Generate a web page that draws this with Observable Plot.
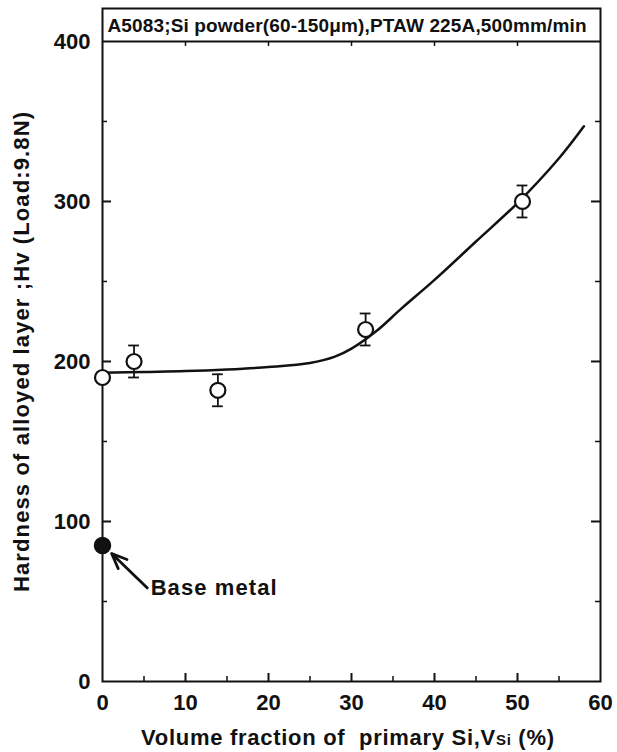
<!DOCTYPE html>
<html><head><meta charset="utf-8">
<script src="https://cdn.jsdelivr.net/npm/d3@7"></script>
<script src="https://cdn.jsdelivr.net/npm/@observablehq/plot@0.6"></script>
<style>body{margin:0;background:#fff}</style>
</head><body><div id="chart"></div>
<script>
const title = "A5083;Si powder(60-150μm),PTAW 225A,500mm/min";
const xLabelMain = "Volume fraction of  primary Si,V";
const xLabelSub = "Si";
const xLabelTail = " (%)";
const yLabel = "Hardness of alloyed layer ;Hv (Load:9.8N)";
const baseLabel = "Base metal";

// measured points (open circles) with error bars
const ptX = [0, 3.8, 13.9, 31.7, 50.6];
const ptY = [190, 200, 182, 220, 300];
const errLo = [null, 190, 172, 210, 290];
const errHi = [null, 210, 192, 230, 310];

// base metal (filled)
const baseX = [0];
const baseY = [85];

// fitted curve
const curveX = [0, 5, 10, 15, 20, 25, 28, 30, 33, 36, 40, 45, 50, 55, 58];
const curveY = [193, 193.5, 194, 195, 196.5, 199, 203, 208, 219, 233, 251, 275, 299, 327, 347];

// annotation arrow (label end -> point end)
const arrowFrom = [5.4, 58.5];
const arrowTo = [1.1, 80];

// ticks
const xTicks = [0, 10, 20, 30, 40, 50, 60];
const xMajorInner = [10, 20, 30, 40, 50];
const xMinor = [5, 15, 25, 35, 45, 55];
const yTicks = [0, 100, 200, 300, 400];
const yMajorInner = [100, 200, 300];
const yMinor = [50, 150, 250, 350];

const W = 617, H = 752;
const mL = 102, mR = 17, mT = 8, mB = 71;
const yMax = 420.6;
const plotW = W - mL - mR, plotH = H - mT - mB;
const boxPx = (yMax - 400) / yMax * plotH;
const yLabelLen = 480;

const pts = ptX.map((x, i) => ({x, y: ptY[i], lo: errLo[i], hi: errHi[i]}));
const errs = pts.filter(d => d.lo != null);
const base = baseX.map((x, i) => ({x, y: baseY[i]}));
const curve = curveX.map((x, i) => ({x, y: curveY[i]}));
const capHalf = 0.65;

const chart = Plot.plot({
  width: W, height: H,
  marginLeft: mL, marginRight: mR, marginTop: mT, marginBottom: mB,
  x: {domain: [0, 60]},
  y: {domain: [0, yMax]},
  style: {fontFamily: "'Liberation Sans', Arial, sans-serif", fontWeight: "bold", fontSize: "21px", color: "#111", background: "#fff"},
  marks: [
    Plot.frame({stroke: "#111", strokeWidth: 2}),
    Plot.ruleY([400], {stroke: "#111", strokeWidth: 2}),
    // inward ticks
    Plot.ruleY(yMajorInner, {y: d => d, insetRight: plotW - 9, stroke: "#111", strokeWidth: 2}),
    Plot.ruleY(yMinor, {y: d => d, insetRight: plotW - 5, stroke: "#111", strokeWidth: 1.5}),
    Plot.ruleY(yMajorInner, {y: d => d, insetLeft: plotW - 9, stroke: "#111", strokeWidth: 2}),
    Plot.ruleY(yMinor, {y: d => d, insetLeft: plotW - 5, stroke: "#111", strokeWidth: 1.5}),
    Plot.ruleX(xMajorInner, {x: d => d, insetTop: plotH - 8, stroke: "#111", strokeWidth: 2}),
    Plot.ruleX(xMinor, {x: d => d, insetTop: plotH - 5, stroke: "#111", strokeWidth: 1.5}),
    Plot.ruleX(xMajorInner, {x: d => d, insetTop: boxPx, insetBottom: plotH - boxPx - 5, stroke: "#111", strokeWidth: 1.5}),
    Plot.axisX({ticks: xTicks, tickSize: 0, tickPadding: 13, label: null, fontSize: 22, fontWeight: "bold"}),
    Plot.axisY({ticks: yTicks, tickSize: 0, tickPadding: 12, label: null, fontSize: 22, fontWeight: "bold"}),
    // curve
    Plot.line(curve, {x: "x", y: "y", curve: "catmull-rom", stroke: "#111", strokeWidth: 2.5}),
    // error bars
    Plot.ruleX(errs, {x: "x", y1: "lo", y2: "hi", stroke: "#111", strokeWidth: 1.8}),
    Plot.ruleY(errs, {y: "lo", x1: d => d.x - capHalf, x2: d => d.x + capHalf, stroke: "#111", strokeWidth: 1.8}),
    Plot.ruleY(errs, {y: "hi", x1: d => d.x - capHalf, x2: d => d.x + capHalf, stroke: "#111", strokeWidth: 1.8}),
    // points
    Plot.dot(pts, {x: "x", y: "y", r: 7.5, stroke: "#111", strokeWidth: 2.2, fill: "#fff"}),
    Plot.dot(base, {x: "x", y: "y", r: 8, fill: "#111", stroke: "#111"}),
    // annotation
    Plot.arrow([0], {x1: () => arrowFrom[0], y1: () => arrowFrom[1], x2: () => arrowTo[0], y2: () => arrowTo[1], stroke: "#111", strokeWidth: 2.8, headLength: 14, headAngle: 45}),
    Plot.text([baseLabel], {x: () => arrowFrom[0] + 0.4, y: () => arrowFrom[1], text: d => d, textAnchor: "start", lineAnchor: "middle", fontSize: 22, fontWeight: "bold", fill: "#111"}),
    // title box text
    Plot.text([title], {frameAnchor: "top-left", dx: 5, dy: 17, text: d => d, textAnchor: "start", lineAnchor: "middle", fontSize: 19, fontWeight: "bold", fill: "#111"}),
    // axis titles
    Plot.text([xLabelMain + xLabelSub + xLabelTail], {frameAnchor: "bottom", dx: -4, dy: 56, text: d => d, lineAnchor: "middle", fontSize: 22, fontWeight: "bold", fill: "#111"}),
    Plot.text([yLabel], {frameAnchor: "left", dx: -81, dy: 7 + yLabelLen / 2, rotate: -90, text: d => d, textAnchor: "start", lineAnchor: "middle", fontSize: 22, fontWeight: "bold", fill: "#111"})
  ]
});

document.getElementById("chart").appendChild(chart);

const svg = d3.select(chart);
const byText = s => svg.selectAll("text").filter(function () { return this.textContent === s; });
// subscript in x label
byText(xLabelMain + xLabelSub + xLabelTail).each(function () {
  const t = d3.select(this);
  t.text(null).attr("xml:space", "preserve").attr("textLength", 413).attr("lengthAdjust", "spacing");
  t.append("tspan").text(xLabelMain);
  t.append("tspan").attr("font-size", 15).text(xLabelSub);
  t.append("tspan").text(xLabelTail);
});
byText(yLabel).attr("textLength", yLabelLen).attr("lengthAdjust", "spacing");
byText(title).attr("textLength", 479).attr("lengthAdjust", "spacing");
byText(baseLabel).attr("textLength", 126).attr("lengthAdjust", "spacing");
</script>
</body></html>
